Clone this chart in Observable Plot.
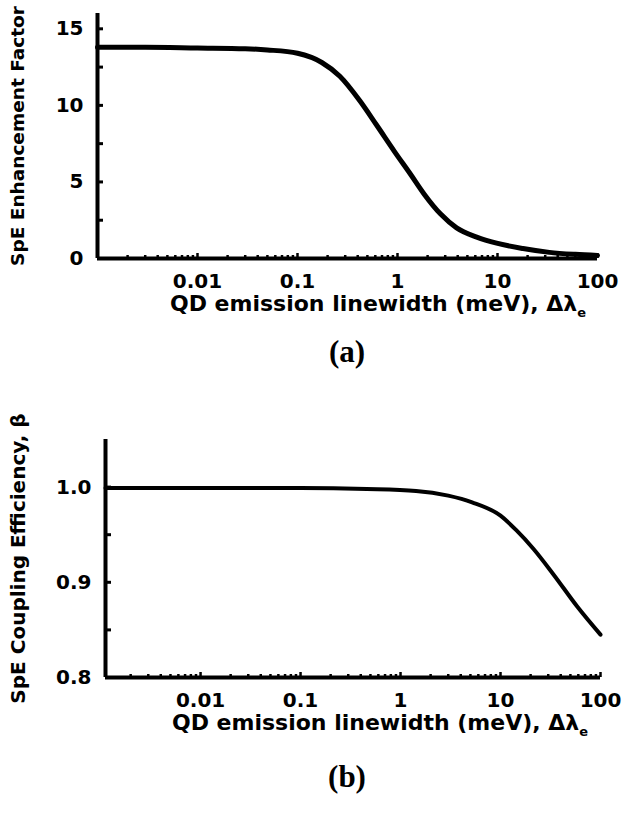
<!DOCTYPE html>
<html><head><meta charset="utf-8">
<script src="https://cdn.jsdelivr.net/npm/d3@7"></script>
<script src="https://cdn.jsdelivr.net/npm/@observablehq/plot@0.6"></script>
<style>
body{margin:0;background:#fff;}
#wrap{position:relative;width:634px;height:815px;font-family:"DejaVu Sans",sans-serif;font-weight:bold;color:#000;}
.abs{position:absolute;white-space:nowrap;transform:translate(-50%,-50%);line-height:1;}
.xl{font-size:22px;}
.pl{font-family:"Liberation Serif","Times New Roman",serif;font-size:31px;font-weight:bold;}
svg{position:absolute;left:0;}
</style></head><body><div id="wrap"></div>
<script>
// Panel (a): SpE enhancement factor vs QD emission linewidth (meV)
const linewidthA = [0.001, 0.003, 0.01, 0.03, 0.05, 0.1, 0.175, 0.265, 0.42, 0.62, 0.93, 1.35, 1.85, 2.7, 3.9, 6.2, 9.8, 18, 33, 60, 100];
const enhancementA = [13.8, 13.8, 13.75, 13.7, 13.62, 13.4, 12.8, 11.9, 10.3, 8.7, 7.0, 5.5, 4.2, 2.9, 2.0, 1.4, 1.0, 0.65, 0.4, 0.27, 0.2];
// Panel (b): SpE coupling efficiency beta vs QD emission linewidth (meV)
const linewidthB = [0.00112, 0.01, 0.1, 0.46, 1.43, 3.0, 5.2, 10, 14.3, 21.4, 34, 59, 100];
const betaB = [0.999, 0.999, 0.999, 0.998, 0.996, 0.991, 0.984, 0.970, 0.955, 0.935, 0.908, 0.874, 0.845];

// tick labels
const xMajorTicks = [0.01, 0.1, 1, 10, 100];
const xDecades = [0.001, 0.01, 0.1, 1, 10];
const xMinorMultipliers = [2, 3, 4, 5, 6, 7, 8, 9];
const yTicksA = [0, 5, 10, 15];
const yMinorA = [2.5, 7.5, 12.5];
const yTicksB = [0.8, 0.9, 1.0];
const yMinorB = [0.85, 0.95];

const xMinorTicks = xDecades.flatMap(d => xMinorMultipliers.map(m => +(d * m).toPrecision(3)));
const dataA = linewidthA.map((w, i) => ({w, v: enhancementA[i]}));
const dataB = linewidthB.map((w, i) => ({w, v: betaB[i]}));

function panel({data, xDomain, yDomain, yTicks, yMinor, yFmt, ylabel, ylabelSize, height, marginTop, marginBottom, marginLeft, marginRight, lineWidth}) {
  return Plot.plot({
    width: 634, height, marginLeft, marginRight, marginTop, marginBottom,
    style: {fontFamily: "DejaVu Sans, sans-serif", fontWeight: "bold", fontSize: "20px", color: "#000", background: "transparent", overflow: "visible"},
    x: {type: "log", domain: xDomain, axis: null},
    y: {domain: yDomain},
    marks: [
      Plot.text(xMajorTicks, {x: d => d, text: d => String(d), frameAnchor: "bottom", dy: 23, lineAnchor: "middle", fontSize: 20, fontWeight: "bold"}),
      Plot.axisX({ticks: xMinorTicks.filter(t => t > xDomain[0]), tickSize: -3, text: null, label: null, strokeWidth: 2.5}),
      Plot.axisX({ticks: xMajorTicks, tickSize: -5, text: null, label: null, strokeWidth: 2.5}),
      Plot.axisY({ticks: yTicks, tickSize: 0, tickPadding: 14, fontSize: 20, tickFormat: yFmt, label: null}),
      Plot.axisY({ticks: yTicks.concat(yMinor), tickSize: -6, text: null, label: null, strokeWidth: 3}),
      Plot.ruleX([xDomain[0]], {strokeWidth: 4}),
      Plot.ruleY([yDomain[0]], {strokeWidth: 4}),
      Plot.text([ylabel], {text: d => d, frameAnchor: "left", rotate: -90, dx: 18 - marginLeft, fontSize: ylabelSize, fontWeight: "bold", textAnchor: "middle", lineAnchor: "middle"}),
      Plot.line(data, {x: "w", y: "v", curve: "monotone-x", strokeWidth: lineWidth, stroke: "#000"})
    ]
  });
}

const wrap = document.getElementById("wrap");
const a = panel({data: dataA, xDomain: [0.001, 100], yDomain: [0, 16], yTicks: yTicksA, yMinor: yMinorA, yFmt: d => String(d),
  ylabel: "SpE Enhancement Factor", ylabelSize: 18.5, height: 330, marginTop: 13, marginBottom: 72, marginLeft: 97, marginRight: 37, lineWidth: 5});
a.style.top = "0px";
wrap.appendChild(a);
const b = panel({data: dataB, xDomain: [0.00112, 100], yDomain: [0.8, 1.05], yTicks: yTicksB, yMinor: yMinorB, yFmt: d => d.toFixed(1),
  ylabel: "SpE Coupling Efficiency, β", ylabelSize: 20, height: 330, marginTop: 19, marginBottom: 73, marginLeft: 105, marginRight: 34, lineWidth: 4});
b.style.top = "420px";
wrap.appendChild(b);

function label(html, x, y, cls) {
  const d = document.createElement("div");
  d.className = "abs " + cls;
  d.style.left = x + "px"; d.style.top = y + "px";
  d.innerHTML = html;
  wrap.appendChild(d);
}
label("QD emission linewidth (meV), Δλ<sub style='font-size:13px;line-height:1'>e</sub>", 378, 306, "xl");
label("(a)", 347, 351, "pl");
label("QD emission linewidth (meV), Δλ<sub style='font-size:13px;line-height:1'>e</sub>", 380, 725, "xl");
label("(b)", 347, 776, "pl");
</script></body></html>
